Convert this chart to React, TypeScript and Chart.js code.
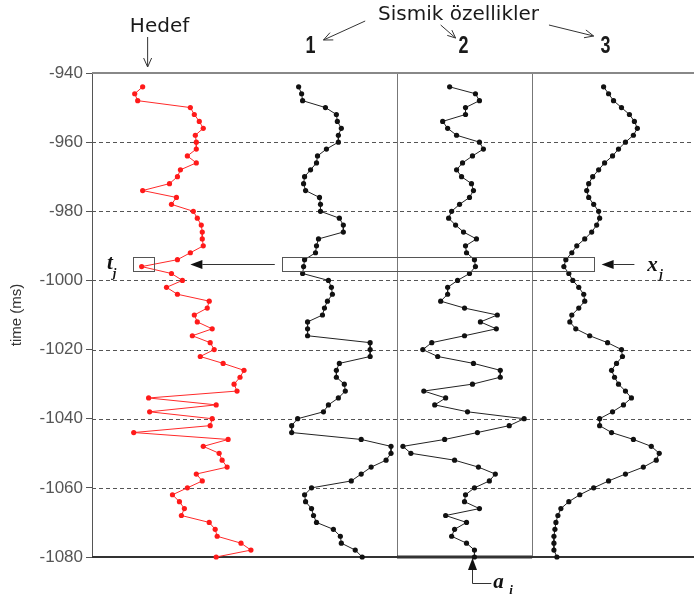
import React, { useEffect, useRef } from "react";
import { Chart, registerables } from "chart.js";

Chart.register(...registerables);

// time samples (ms), 2 ms step
const timesMs = [
  -944, -946, -948, -950, -952, -954, -956, -958, -960, -962,
  -964, -966, -968, -970, -972, -974, -976, -978, -980, -982,
  -984, -986, -988, -990, -992, -994, -996, -998, -1000, -1002,
  -1004, -1006, -1008, -1010, -1012, -1014, -1016, -1018, -1020, -1022,
  -1024, -1026, -1028, -1030, -1032, -1034, -1036, -1038, -1040, -1042,
  -1044, -1046, -1048, -1050, -1052, -1054, -1056, -1058, -1060, -1062,
  -1064, -1066, -1068, -1070, -1072, -1074, -1076, -1078, -1080,
];

// amplitudes (display units along the hidden horizontal axis)
const hedef = [
  51, 43, 46, 99, 103, 108, 112, 104, 105, 105,
  96, 105, 89, 86, 78, 51, 85, 80, 102, 106,
  110, 111, 111, 112, 99, 86, 50, 80, 91, 75,
  86, 118, 116, 103, 106, 121, 101, 119, 123, 109,
  132, 153, 149, 143, 146, 57, 125, 58, 121, 119,
  42, 137, 112, 128, 131, 136, 105, 111, 96, 81,
  88, 93, 90, 118, 124, 126, 150, 160, 125,
];

const feature1 = [
  208, 211, 212, 235, 246, 247, 251, 248, 248, 236,
  227, 226, 220, 214, 213, 215, 229, 230, 230, 249,
  253, 253, 228, 226, 225, 214, 213, 212, 238, 241,
  242, 237, 234, 232, 217, 217, 217, 280, 280, 280,
  249, 246, 246, 254, 255, 248, 238, 233, 207, 201,
  201, 271, 301, 301, 296, 281, 271, 261, 221, 214,
  215, 221, 223, 226, 243, 250, 251, 265, 272,
];

const feature2 = [
  360, 386, 390, 376, 376, 353, 358, 367, 390, 394,
  383, 373, 367, 372, 382, 384, 380, 370, 362, 359,
  366, 374, 387, 376, 377, 385, 386, 380, 368, 358,
  358, 351, 375, 408, 391, 407, 375, 342, 333, 348,
  384, 411, 411, 383, 334, 356, 345, 378, 435, 420,
  388, 355, 313, 321, 365, 389, 406, 400, 385, 376,
  375, 390, 356, 377, 365, 362, 377, 385, 385,
];

const feature3 = [
  515, 520, 525, 533, 541, 546, 549, 545, 537, 530,
  524, 516, 510, 504, 500, 498, 500, 505, 510, 511,
  508, 503, 496, 488, 483, 477, 475, 480, 484, 490,
  495, 496, 490, 483, 481, 487, 501, 519, 533, 534,
  528, 523, 526, 530, 537, 543, 535, 524, 511, 511,
  523, 545, 563, 571, 568, 555, 537, 520, 505, 491,
  480, 472, 469, 467, 466, 465, 465, 465, 468,
];

const yTickValues = [-940, -960, -980, -1000, -1020, -1040, -1060, -1080];
const dashedGridValues = [-960, -980, -1000, -1020, -1040, -1060];
const trackDividers = [307, 443];
const featureLabels = ["1", "2", "3"];
const featureLabelX = [220, 374, 517];

const toPoints = (xs: number[]) => xs.map((v, i) => ({ x: v, y: timesMs[i] }));

function arrow(
  ctx: CanvasRenderingContext2D,
  x1: number, y1: number, x2: number, y2: number,
  head: number, half: number, filled: boolean
) {
  const ang = Math.atan2(y2 - y1, x2 - x1);
  const bx = x2 - head * Math.cos(ang);
  const by = y2 - head * Math.sin(ang);
  const px = -Math.sin(ang) * half;
  const py = Math.cos(ang) * half;
  ctx.beginPath();
  ctx.moveTo(x1, y1);
  ctx.lineTo(filled ? bx : x2, filled ? by : y2);
  ctx.stroke();
  ctx.beginPath();
  ctx.moveTo(bx + px, by + py);
  ctx.lineTo(x2, y2);
  ctx.lineTo(bx - px, by - py);
  if (filled) {
    ctx.closePath();
    ctx.fill();
  } else {
    ctx.stroke();
  }
}

const annotationPlugin = {
  id: "seismicAnnotations",
  beforeDatasetsDraw(chart: any) {
    const { ctx, chartArea: a, scales } = chart;
    const x = scales.x;
    const y = scales.y;
    ctx.save();
    // dashed grid
    ctx.strokeStyle = "#555";
    ctx.lineWidth = 1;
    ctx.setLineDash([4, 3]);
    for (const v of dashedGridValues) {
      const py = Math.round(y.getPixelForValue(v)) + 0.5;
      ctx.beginPath();
      ctx.moveTo(a.left, py);
      ctx.lineTo(a.right, py);
      ctx.stroke();
    }
    ctx.setLineDash([]);
    // track dividers
    ctx.strokeStyle = "#777";
    ctx.lineWidth = 1;
    for (const v of trackDividers) {
      const px = Math.round(x.getPixelForValue(v)) + 0.5;
      ctx.beginPath();
      ctx.moveTo(px, a.top);
      ctx.lineTo(px, a.bottom);
      ctx.stroke();
    }
    // top border
    ctx.strokeStyle = "#888";
    ctx.lineWidth = 2;
    ctx.beginPath();
    ctx.moveTo(a.left, a.top);
    ctx.lineTo(a.right, a.top);
    ctx.stroke();
    // bottom axis
    ctx.strokeStyle = "#333";
    ctx.lineWidth = 2;
    ctx.beginPath();
    ctx.moveTo(a.left, a.bottom);
    ctx.lineTo(a.right, a.bottom);
    ctx.stroke();
    ctx.lineWidth = 3;
    ctx.beginPath();
    ctx.moveTo(x.getPixelForValue(trackDividers[0]), a.bottom);
    ctx.lineTo(x.getPixelForValue(trackDividers[1]), a.bottom);
    ctx.stroke();
    ctx.restore();
  },
  afterDatasetsDraw(chart: any) {
    const { ctx, scales } = chart;
    const x = scales.x;
    const y = scales.y;
    const X = (v: number) => x.getPixelForValue(v);
    const Y = (v: number) => y.getPixelForValue(v);
    ctx.save();
    // selection boxes
    ctx.strokeStyle = "#555";
    ctx.lineWidth = 1;
    ctx.strokeRect(Math.round(X(41)) + 0.5, Math.round(Y(-993.2)) + 0.5, Math.round(X(62) - X(41)), Math.round(Y(-997.3) - Y(-993.2)));
    ctx.strokeRect(Math.round(X(191)) + 0.5, Math.round(Y(-993.2)) + 0.5, Math.round(X(505) - X(191)), Math.round(Y(-997.3) - Y(-993.2)));

    // horizontal arrows
    ctx.strokeStyle = "#333";
    ctx.fillStyle = "#111";
    ctx.lineWidth = 1;
    const ay = Math.round(Y(-995.3)) + 0.5;
    arrow(ctx, X(184), ay, X(99), ay, 12, 4.5, true);
    arrow(ctx, X(546), ay, X(513), ay, 12, 4.5, true);

    // a_i arrow
    const aiX = Math.round(X(383)) + 0.5;
    ctx.beginPath();
    ctx.moveTo(X(402), 583.5);
    ctx.lineTo(aiX, 583.5);
    ctx.lineTo(aiX, Y(-1080) + 10);
    ctx.stroke();
    arrow(ctx, aiX, 583, aiX, Y(-1080) + 1, 12, 4.5, true);

    // top annotations
    ctx.fillStyle = "#1a1a1a";
    ctx.textBaseline = "alphabetic";
    ctx.textAlign = "center";
    ctx.font = '20px "DejaVu Sans"';
    ctx.fillText("Hedef", X(68), 32);
    ctx.fillText("Sismik özellikler", X(369), 20);

    ctx.font = 'bold 23px "Liberation Sans"';
    featureLabels.forEach((t, i) => {
      ctx.save();
      ctx.translate(X(featureLabelX[i]), 53);
      ctx.scale(0.78, 1);
      ctx.fillText(t, 0, 0);
      ctx.restore();
    });

    ctx.strokeStyle = "#333";
    ctx.lineWidth = 1;
    arrow(ctx, X(56), 37, X(56), 67, 9, 4, false);
    arrow(ctx, X(275), 21, X(233), 40, 9, 4, false);
    arrow(ctx, X(351), 25, X(366), 38, 8, 3.5, false);
    arrow(ctx, X(460), 25, X(505), 36, 9, 4, false);

    // italic symbols
    ctx.textAlign = "left";
    ctx.fillStyle = "#111";
    ctx.font = 'bold italic 21px "Liberation Serif"';
    ctx.fillText("t", X(15), 269);
    ctx.fillText("x", X(559), 271);
    ctx.fillText("a", X(404), 588);
    ctx.font = 'bold italic 13px "Liberation Serif"';
    ctx.fillText("j", X(21), 277);
    ctx.fillText("j", X(571), 278);
    ctx.fillText("i", X(420), 594);
    ctx.restore();
  },
};

export default function App() {
  const canvasRef = useRef<HTMLCanvasElement | null>(null);

  useEffect(() => {
    if (!canvasRef.current) return;
    const redStyle = {
      borderColor: "#ff2a2a",
      backgroundColor: "#ff1a1a",
      pointBackgroundColor: "#ff1a1a",
      pointBorderWidth: 0,
      pointRadius: 2.6,
      borderWidth: 1,
      showLine: true,
      clip: false as const,
    };
    const blackStyle = {
      borderColor: "#222",
      backgroundColor: "#111",
      pointBackgroundColor: "#111",
      pointBorderWidth: 0,
      pointRadius: 2.6,
      borderWidth: 1,
      showLine: true,
      clip: false as const,
    };
    const chart = new Chart(canvasRef.current, {
      type: "scatter",
      data: {
        datasets: [
          { label: "Hedef", data: toPoints(hedef), ...redStyle },
          { label: "1", data: toPoints(feature1), ...blackStyle },
          { label: "2", data: toPoints(feature2), ...blackStyle },
          { label: "3", data: toPoints(feature3), ...blackStyle },
        ],
      },
      options: {
        animation: false,
        responsive: false,
        devicePixelRatio: 1,
        layout: { padding: { top: 73, bottom: 39, left: 0, right: 0 } },
        plugins: { legend: { display: false }, tooltip: { enabled: false } },
        scales: {
          x: { type: "linear", display: false, min: 0, max: 606 },
          y: {
            type: "linear",
            min: yTickValues[yTickValues.length - 1],
            max: yTickValues[0],
            afterFit: (s: any) => {
              s.width = 92;
            },
            afterBuildTicks: (s: any) => {
              s.ticks = yTickValues.map((v) => ({ value: v }));
            },
            ticks: {
              callback: (v: any) => String(v),
              font: { family: '"Liberation Sans", Arial, sans-serif', size: 17 },
              color: "#555",
              padding: 3,
            },
            grid: { drawOnChartArea: false, drawTicks: true, tickLength: 6, color: "#555" },
            border: { display: true, color: "#555", width: 1 },
            title: {
              display: true,
              text: "time (ms)",
              font: { family: '"Liberation Sans", Arial, sans-serif', size: 15 },
              color: "#333",
              padding: { top: 8, bottom: 0 },
            },
          },
        },
      },
      plugins: [annotationPlugin],
    });
    return () => chart.destroy();
  }, []);

  return (
    <div style={{ position: "fixed", left: 0, top: 0, width: 698, height: 596, background: "#fff" }}>
      <canvas ref={canvasRef} width={698} height={596} style={{ display: "block" }} />
    </div>
  );
}
